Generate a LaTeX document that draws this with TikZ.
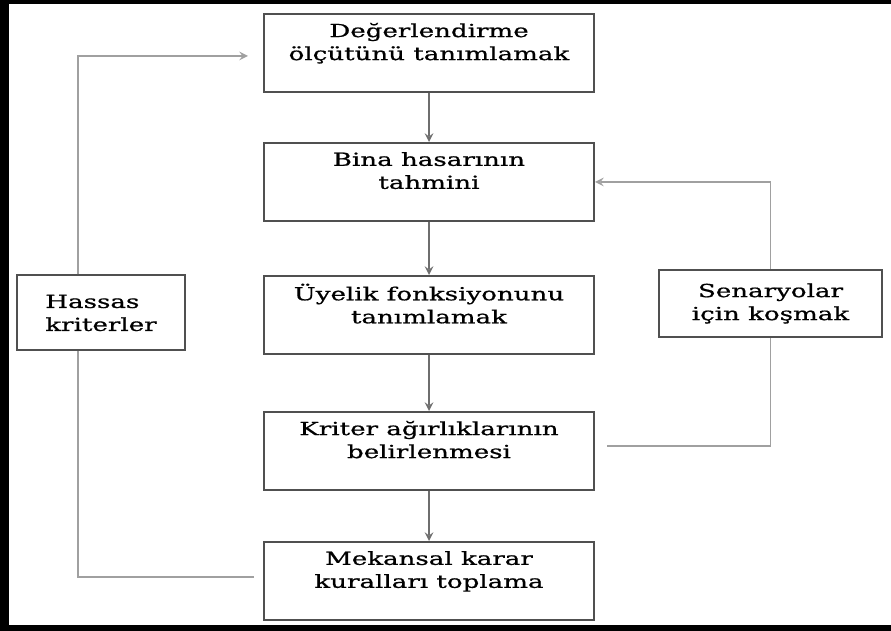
\documentclass[tikz,border=0pt]{standalone}
\usepackage{fontspec}
\setmainfont{DejaVu Serif}[FakeStretch=1.45,FakeBold=0.8]
\usepackage{tikz}
\usetikzlibrary{arrows,positioning}
\usepackage{xcolor}
\definecolor{boxgray}{RGB}{80,80,80}
\definecolor{arrowgray}{RGB}{110,110,110}
\definecolor{loopgray}{RGB}{160,160,160}
\tikzstyle{stepbox} = [draw=boxgray, line width=1pt, rectangle, minimum width=165pt, minimum height=39pt, align=center, inner sep=2pt, font=\fontsize{9}{11.5}\selectfont]
\tikzstyle{sidebox} = [stepbox, minimum width=84pt, minimum height=37.5pt, align=left]
\tikzstyle{arrow} = [line width=0.9pt,->,>=stealth,color=arrowgray]
\tikzstyle{loopline} = [line width=0.9pt,color=loopgray]
\tikzstyle{looparrow} = [loopline,->,>=stealth]

\begin{document}
\begin{tikzpicture}[x=0.5pt, y=-0.5pt]
\useasboundingbox (0,0) rectangle (891,631);
% Frame
\fill[black] (0,0) rectangle (891,4);
\fill[black] (0,0) rectangle (9,631);
\fill[black] (0,625) rectangle (891,631);

% Main steps
\node[stepbox] (eval) at (429,53) {Değerlendirme\\ölçütünü tanımlamak\\~};
\node[stepbox] (bina) at (429,182) {Bina hasarının\\tahmini\\~};
\node[stepbox] (uyelik) at (429,315) {Üyelik fonksiyonunu\\tanımlamak\\~};
\node[stepbox] (kriter) at (429,451) {Kriter ağırlıklarının\\belirlenmesi\\~};
\node[stepbox] (mekansal) at (429,581) {Mekansal karar\\kuralları toplama\\~};

% Side boxes
\node[sidebox] (hassas) at (101,313) {Hassas\\kriterler};
\node[stepbox, minimum width=111.5pt, minimum height=33.5pt] (senaryo) at (770.5,303.5) {Senaryolar\\için koşmak};

% Flow
\draw[arrow] (eval) -- (bina);
\draw[arrow] (bina) -- (uyelik);
\draw[arrow] (uyelik) -- (kriter);
\draw[arrow] (kriter) -- (mekansal);

% Feedback loops
\draw[loopline] ([xshift=-4.5pt,yshift=2pt]mekansal.west) -| ([xshift=-11.5pt]hassas.south);
\draw[looparrow] ([xshift=-11.5pt]hassas.north) |- ([xshift=-7.5pt,yshift=-1.5pt]eval.west);
\draw[loopline] ([xshift=6pt,yshift=2.5pt]kriter.east) -| (senaryo.south);
\draw[looparrow] (senaryo.north) |- (bina.east);
\end{tikzpicture}
\end{document}
